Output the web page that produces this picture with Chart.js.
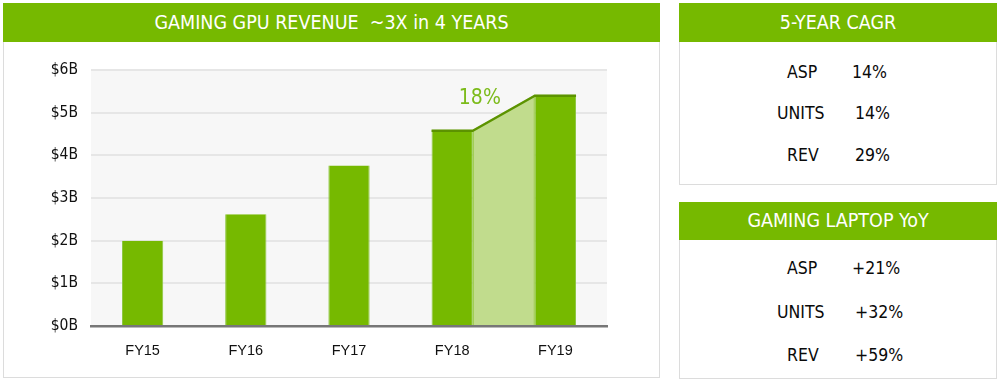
<!DOCTYPE html>
<html>
<head>
<meta charset="utf-8">
<script src="https://cdn.jsdelivr.net/npm/chart.js@4.4.1/dist/chart.umd.min.js"></script>
<style>
  html, body { margin:0; padding:0; background:#fff; }
  body { width:1000px; height:382px; position:relative; overflow:hidden;
         font-family:"DejaVu Sans Condensed","DejaVu Sans","Noto Sans",sans-serif; }
  .panel { position:absolute; border:1px solid #dcdcdc; box-sizing:border-box; background:#fff; }
  .head { position:absolute; left:-1px; right:-1px; top:-1px; background:#76b900; color:#fff;
          text-align:center; font-size:19.5px; }
  #chartWrap { position:absolute; left:4px; top:42px; width:654px; height:334px; }
</style>
</head>
<body>
<div class="panel" style="left:3px;top:3px;width:657px;height:375px;">
  <div class="head" style="height:39px;line-height:39px;">GAMING GPU REVENUE&nbsp;&nbsp;~3X in 4 YEARS</div>
</div>
<div id="chartWrap"><canvas id="c" width="654" height="334"></canvas></div>

<div class="panel" style="left:679px;top:3px;width:318px;height:182px;">
  <div class="head" style="height:39px;line-height:39px;">5-YEAR CAGR</div>
</div>
<div class="panel" style="left:679px;top:202px;width:318px;height:177px;">
  <div class="head" style="height:38px;line-height:38px;">GAMING LAPTOP YoY</div>
</div>
<div id="tables"></div>

<script>
const categories = ["FY15", "FY16", "FY17", "FY18", "FY19"];
const revenue = [2.0, 2.62, 3.76, 4.6, 5.42];
const yTicks = ["$0B", "$1B", "$2B", "$3B", "$4B", "$5B", "$6B"];
const growthLabel = "18%";

const cagrMetrics = ["ASP", "UNITS", "REV"];
const cagrValues = ["14%", "14%", "29%"];
const laptopMetrics = ["ASP", "UNITS", "REV"];
const laptopValues = ["+21%", "+32%", "+59%"];

function buildTable(metrics, values, rowsY, labelX, valueX) {
  const t = document.getElementById('tables');
  metrics.forEach((m, i) => {
    const l = document.createElement('div');
    l.textContent = m;
    l.style.cssText = `position:absolute;font-size:17.5px;color:#0a0a0a;top:${rowsY[i]-11}px;left:${labelX[i]}px;line-height:22px;`;
    t.appendChild(l);
    const v = document.createElement('div');
    v.textContent = values[i];
    v.style.cssText = `position:absolute;font-size:17.5px;color:#0a0a0a;top:${rowsY[i]-11}px;left:${valueX[i]}px;line-height:22px;`;
    t.appendChild(v);
  });
}
buildTable(cagrMetrics, cagrValues, [72, 113, 155], [787, 777, 787], [852, 855, 855]);
buildTable(laptopMetrics, laptopValues, [268, 312, 355], [787, 777, 787], [852, 855, 855]);

const green = '#76b900';

const decorPlugin = {
  id: 'decor',
  beforeDraw(chart) {
    const {ctx, chartArea: a} = chart;
    ctx.save();
    ctx.fillStyle = '#f7f7f7';
    ctx.fillRect(a.left, a.top, a.right - a.left, a.bottom - a.top);
    ctx.restore();
  },
  afterDatasetsDraw(chart) {
    const {ctx} = chart;
    const meta = chart.getDatasetMeta(0);
    const b3 = meta.data[3], b4 = meta.data[4];
    const w3 = b3.width / 2, w4 = b4.width / 2;
    const base = b3.base;
    ctx.save();
    ctx.fillStyle = '#c1dc8d';
    ctx.beginPath();
    ctx.moveTo(b3.x + w3, base);
    ctx.lineTo(b3.x + w3, b3.y);
    ctx.lineTo(b4.x - w4, b4.y);
    ctx.lineTo(b4.x - w4, base);
    ctx.closePath();
    ctx.fill();
    ctx.strokeStyle = '#9ccb4c';
    ctx.lineWidth = 1;
    ctx.beginPath();
    ctx.moveTo(b3.x + w3 + 0.5, base); ctx.lineTo(b3.x + w3 + 0.5, b3.y);
    ctx.moveTo(b4.x - w4 - 0.5, base); ctx.lineTo(b4.x - w4 - 0.5, b4.y);
    ctx.stroke();
    ctx.strokeStyle = '#5c9300';
    ctx.lineWidth = 2.5;
    ctx.lineJoin = 'round';
    ctx.beginPath();
    ctx.moveTo(b3.x - w3, b3.y + 1);
    ctx.lineTo(b3.x + w3, b3.y + 1);
    ctx.lineTo(b4.x - w4, b4.y + 1);
    ctx.lineTo(b4.x + w4, b4.y + 1);
    ctx.stroke();
    ctx.fillStyle = '#7cbb1a';
    ctx.font = '21px "DejaVu Sans Condensed","DejaVu Sans",sans-serif';
    ctx.textAlign = 'center';
    ctx.textBaseline = 'middle';
    ctx.fillText(growthLabel, b3.x + w3 + 7, b4.y + 4);
    ctx.restore();
  }
};

new Chart(document.getElementById('c'), {
  type: 'bar',
  data: {
    labels: categories,
    datasets: [{
      data: revenue,
      backgroundColor: green,
      borderColor: '#8cc63f',
      borderWidth: {left:1, right:1, top:0, bottom:0},
      borderSkipped: false,
      barPercentage: 0.8,
      categoryPercentage: 0.5
    }]
  },
  options: {
    responsive: false,
    animation: false,
    devicePixelRatio: 1,
    layout: { padding: { top: 28, right: 51, left: 0, bottom: 0 } },
    plugins: { legend: { display: false }, tooltip: { enabled: false } },
    scales: {
      x: {
        grid: { display: false },
        border: { color: '#777', width: 2.5 },
        ticks: { color: '#111', font: { family: 'Liberation Sans, Arial, sans-serif', size: 14.5 }, padding: 8 },
        afterFit(s) { s.height = 50; }
      },
      y: {
        min: 0, max: 6,
        grid: { color: '#e6e6e6', lineWidth: 2, drawTicks: false },
        border: { display: false },
        ticks: {
          stepSize: 1,
          color: '#111',
          padding: 13,
          font: { family: '"DejaVu Sans Condensed","DejaVu Sans",sans-serif', size: 15.5 },
          callback: (v) => yTicks[v]
        },
        afterFit(s) { s.width = 87; }
      }
    }
  },
  plugins: [decorPlugin]
});
</script>
</body>
</html>
